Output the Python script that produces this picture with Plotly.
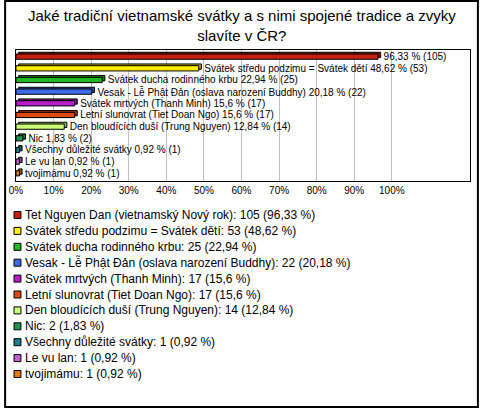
import plotly.graph_objects as go

categories = [
    "Tet Nguyen Dan (vietnamský Nový rok)",
    "Svátek středu podzimu = Svátek dětí",
    "Svátek ducha rodinného krbu",
    "Vesak - Lễ Phật Đản (oslava narození Buddhy)",
    "Svátek mrtvých (Thanh Minh)",
    "Letní slunovrat (Tiet Doan Ngo)",
    "Den bloudících duší (Trung Nguyen)",
    "Nic",
    "Všechny důležité svátky",
    "Le vu lan",
    "tvojimámu",
]
counts = [105, 53, 25, 22, 17, 17, 14, 2, 1, 1, 1]
percents = [96.33, 48.62, 22.94, 20.18, 15.6, 15.6, 12.84, 1.83, 0.92, 0.92, 0.92]
percent_labels = ["96,33", "48,62", "22,94", "20,18", "15,6", "15,6", "12,84", "1,83", "0,92", "0,92", "0,92"]
colors = ["#c8200e", "#ffee00", "#22b822", "#3f6ae8", "#b81ec8", "#e04812",
          "#ccff77", "#1f9150", "#1f7f8f", "#c060c8", "#e07a0a"]
tick_vals = [0, 10, 20, 30, 40, 50, 60, 70, 80, 90, 100]
tick_text = [f"{v}%" for v in tick_vals]
title_text = "Jaké tradiční vietnamské svátky a s nimi spojené tradice a zvyky<br>slavíte v ČR?"

NB = "\u00a0\u00a0"
bar_text = []
for i, (c, n, p) in enumerate(zip(categories, counts, percent_labels)):
    if i == 0:
        bar_text.append(f"{NB}{p} % ({n})")
    else:
        bar_text.append(f"{NB}{c} {p} % ({n})")

def darker(hexcol, f=0.7):
    h = hexcol.lstrip("#")
    r, g, b = (int(h[k:k + 2], 16) for k in (0, 2, 4))
    return "#%02x%02x%02x" % (int(r * f), int(g * f), int(b * f))

depth_colors = [darker(c) for c in colors]

W, H = 480, 408
ML, MR, MT, MB = 12, 9, 50, 227
PW, PH = W - ML - MR, H - MT - MB

def px(x):
    return (x - ML) / PW

def py(y):
    return 1 - (y - MT) / PH

FONT = "Liberation Sans, Arial, sans-serif"
BW = 0.45

fig = go.Figure()
# depth (3D) face behind each bar
fig.add_trace(go.Bar(
    y=categories, x=percents, orientation="h", base=0.7,
    marker=dict(color=depth_colors, line=dict(color="black", width=1)),
    width=BW, offset=-BW / 2 - 0.15,
    showlegend=False, hoverinfo="skip",
))
fig.add_trace(go.Bar(
    y=categories, x=percents, orientation="h",
    marker=dict(color=colors, line=dict(color="black", width=1)),
    width=BW, offset=-BW / 2,
    text=bar_text, textposition="outside", constraintext="none",
    textfont=dict(size=10, color="black", family=FONT),
    cliponaxis=False, showlegend=False, hoverinfo="skip",
))

shapes = [dict(type="rect", xref="paper", yref="paper",
               x0=px(1), x1=px(479), y0=py(1), y1=py(407),
               line=dict(color="black", width=2), layer="above")]
annotations = [dict(xref="paper", yref="paper", x=px(240), y=py(26),
                    xanchor="center", yanchor="middle", showarrow=False,
                    text=title_text, align="center",
                    font=dict(size=15, color="black", family=FONT))]
for i, (c, n, p, col) in enumerate(zip(categories, counts, percent_labels, colors)):
    yc = 215 + 15.9 * i
    shapes.append(dict(type="rect", xref="paper", yref="paper",
                       x0=px(10), x1=px(17), y0=py(yc - 3.5), y1=py(yc + 3.5),
                       fillcolor=col, line=dict(color="black", width=1)))
    annotations.append(dict(xref="paper", yref="paper", x=px(19), y=py(yc),
                            xanchor="left", yanchor="middle", showarrow=False,
                            text=f"{c}: {n} ({p} %)",
                            font=dict(size=12, color="black", family=FONT)))

fig.update_layout(
    width=W, height=H,
    margin=dict(l=ML, r=MR, t=MT, b=MB),
    paper_bgcolor="white", plot_bgcolor="white",
    font=dict(family=FONT, color="black"),
    barmode="overlay",
    xaxis=dict(range=[0, 120.8], tickvals=tick_vals, ticktext=tick_text,
               showgrid=True, gridcolor="#c0c0c0", gridwidth=1,
               showline=True, linecolor="black", linewidth=1, mirror=True,
               zeroline=False, ticks="", tickfont=dict(size=10, family=FONT)),
    yaxis=dict(range=[10.66, -0.57], showticklabels=False, showgrid=False,
               showline=True, linecolor="black", linewidth=1, mirror=True,
               ticks="", zeroline=False),
    shapes=shapes, annotations=annotations,
)

fig.write_html("out.html", config={"displayModeBar": False},
               post_script="document.body.style.margin='0';")
